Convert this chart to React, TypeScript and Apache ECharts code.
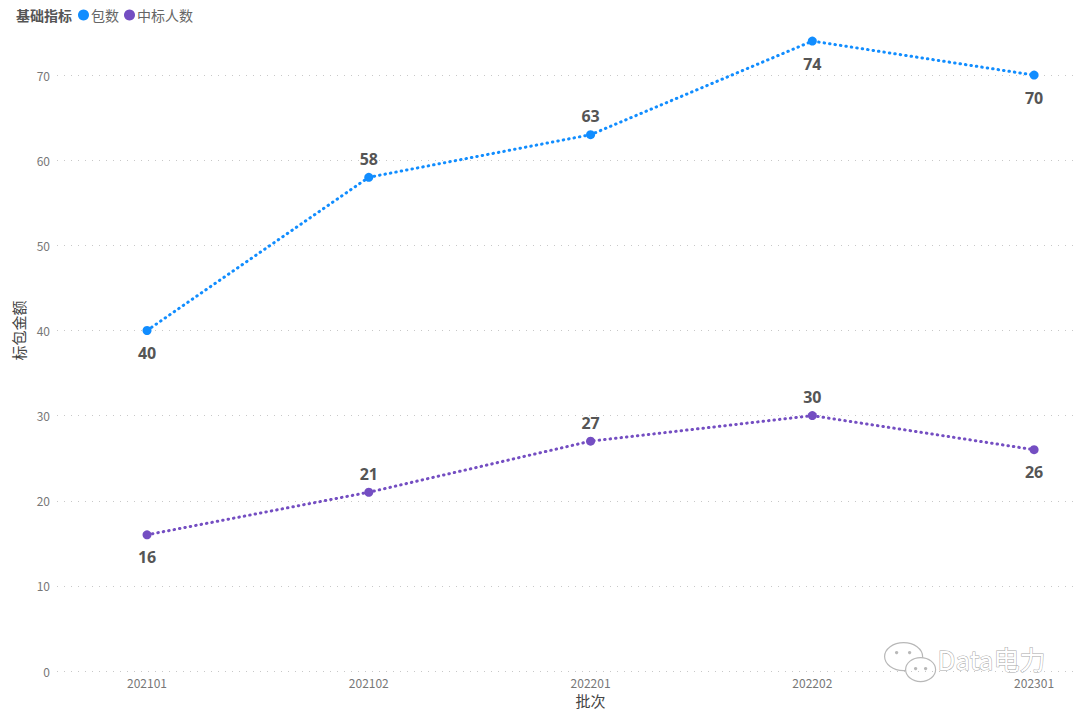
import React, { useEffect, useRef } from "react";
import * as echarts from "echarts";

const categories = ["202101", "202102", "202201", "202202", "202301"];
const packageCounts = [40, 58, 63, 74, 70];
const winnerCounts = [16, 21, 27, 30, 26];
const yTicks = [0, 10, 20, 30, 40, 50, 60, 70];

const packagePlacement = ["bottom", "top", "top", "bottom", "bottom"];
const winnerPlacement = ["bottom", "top", "top", "top", "bottom"];

const BLUE = "#118DFF";
const PURPLE = "#744EC2";

function buildSeries(name: string, values: number[], placement: string[], color: string) {
  return {
    name,
    type: "line",
    symbol: "circle",
    symbolSize: 9,
    itemStyle: { color },
    lineStyle: { color, width: 3, type: [0.5, 5], cap: "round" },
    data: values.map((v, i) => ({
      value: [i, v],
      label: {
        show: true,
        position: placement[i],
        distance: placement[i] === "top" ? 6 : 10,
        formatter: String(v),
        fontSize: 16,
        fontWeight: "bold",
        color: "#555555",
        fontFamily: "'Open Sans', 'Noto Sans', sans-serif",
      },
    })),
  };
}

export default function App() {
  const ref = useRef<HTMLDivElement>(null);
  useEffect(() => {
    if (!ref.current) return;
    const chart = echarts.init(ref.current, undefined, { renderer: "svg" });
    const font = "'Noto Sans CJK SC', 'Noto Sans', sans-serif";
    chart.setOption({
      animation: false,
      backgroundColor: "#ffffff",
      textStyle: { fontFamily: font },
      title: {
        text: "基础指标",
        left: 11,
        top: 3,
        textStyle: { fontSize: 14, fontWeight: "bold", color: "#555555", fontFamily: font },
      },
      legend: {
        left: 73,
        top: 3,
        icon: "circle",
        itemWidth: 11,
        itemHeight: 11,
        itemGap: 5,
        textStyle: { fontSize: 14, color: "#666666", padding: [0, 0, 0, -3], fontFamily: font },
        data: ["包数", "中标人数"],
      },
      grid: { left: 57, right: 2, top: -10, bottom: 41, containLabel: false, outerBoundsMode: "none" },
      xAxis: {
        type: "value",
        min: -0.406,
        max: 4.198,
        name: "批次",
        nameLocation: "middle",
        nameGap: 22,
        nameTextStyle: { fontSize: 15, color: "#444444", padding: [0, 0, 0, 46] },
        axisLine: { show: false },
        axisTick: { show: false },
        splitLine: { show: false },
        axisLabel: {
          customValues: categories.map((_, i) => i),
          formatter: (v: number) => categories[Math.round(v)] ?? "",
          fontSize: 12,
          color: "#777777",
          margin: 5,
        },
      },
      yAxis: {
        type: "value",
        min: 0,
        max: 80,
        interval: 10,
        name: "标包金额",
        nameLocation: "middle",
        nameGap: 25,
        nameTextStyle: { fontSize: 15, color: "#444444" },
        axisLine: { show: false },
        axisTick: { show: false },
        axisLabel: {
          fontSize: 12,
          color: "#777777",
          margin: 7,
          showMaxLabel: false,
          formatter: (v: number) => (yTicks.includes(v) ? String(v) : ""),
        },
        splitLine: { show: true, lineStyle: { color: "#c8c8c8", type: [1, 6], width: 1 } },
      },
      series: [
        buildSeries("包数", packageCounts, packagePlacement, BLUE),
        buildSeries("中标人数", winnerCounts, winnerPlacement, PURPLE),
      ],
      graphic: [
        {
          type: "group",
          left: 884,
          top: 642,
          children: [
            { type: "ellipse", shape: { cx: 20, cy: 15, rx: 19, ry: 14 }, style: { fill: "#ffffff", stroke: "#b8b8b8", lineWidth: 1.2 } },
            { type: "circle", shape: { cx: 13, cy: 11, r: 1.7 }, style: { fill: "#b8b8b8" } },
            { type: "circle", shape: { cx: 26, cy: 11, r: 1.7 }, style: { fill: "#b8b8b8" } },
            { type: "ellipse", shape: { cx: 37, cy: 28, rx: 15, ry: 12 }, style: { fill: "#ffffff", stroke: "#b8b8b8", lineWidth: 1.2 } },
            { type: "circle", shape: { cx: 32, cy: 27, r: 1.7 }, style: { fill: "#b8b8b8" } },
            { type: "circle", shape: { cx: 42, cy: 27, r: 1.7 }, style: { fill: "#b8b8b8" } },
          ],
        },
        {
          type: "text",
          left: 937,
          top: 645,
          style: {
            text: "Data电力",
            fontSize: 26,
            fontFamily: font,
            fill: "#ffffff",
            stroke: "#a8a8a8",
            lineWidth: 1,
          },
        },
      ],
    });
    return () => chart.dispose();
  }, []);
  return (
    <div
      ref={ref}
      style={{ position: "fixed", left: 0, top: 0, width: 1080, height: 712, background: "#fff" }}
    />
  );
}
